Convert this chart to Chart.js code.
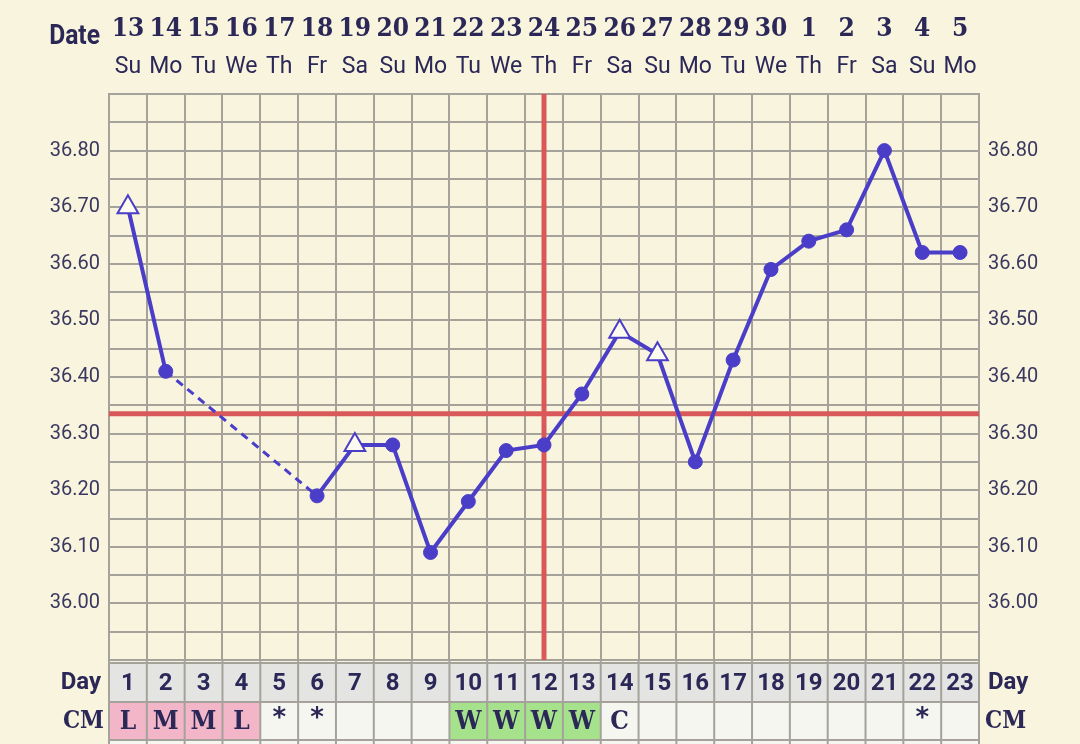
<!DOCTYPE html>
<html>
<head>
<meta charset="utf-8">
<script src="https://cdn.jsdelivr.net/npm/chart.js@4/dist/chart.umd.min.js"></script>
<style>
  html, body { margin: 0; padding: 0; background: #f8f4dd; }
  canvas { display: block; }
</style>
</head>
<body>
<canvas id="bbt-chart-canvas" width="1080" height="744"></canvas>
<script>
const cycleDays = ["1", "2", "3", "4", "5", "6", "7", "8", "9", "10", "11", "12", "13", "14", "15", "16", "17", "18", "19", "20", "21", "22", "23"];
const dates = ["13", "14", "15", "16", "17", "18", "19", "20", "21", "22", "23", "24", "25", "26", "27", "28", "29", "30", "1", "2", "3", "4", "5"];
const weekdays = ["Su", "Mo", "Tu", "We", "Th", "Fr", "Sa", "Su", "Mo", "Tu", "We", "Th", "Fr", "Sa", "Su", "Mo", "Tu", "We", "Th", "Fr", "Sa", "Su", "Mo"];
const temperatures = [36.70, 36.41, null, null, null, 36.19, 36.28, 36.28, 36.09, 36.18, 36.27, 36.28, 36.37, 36.48, 36.44, 36.25, 36.43, 36.59, 36.64, 36.66, 36.80, 36.62, 36.62];
// open triangle = discarded temperature
const discarded = [true, false, false, false, false, false, true, false, false, false, false, false, false, true, true, false, false, false, false, false, false, false, false];
const cervicalMucus = ["L", "M", "M", "L", "*", "*", "", "", "", "W", "W", "W", "W", "C", "", "", "", "", "", "", "", "*", ""];
const coverline = 36.335;
const ovulationDay = "12";

const BLUE = "#4a3dc8";
const RED = "#d9585a";
const GRID = "#a4a29b";
const TEXT = "#2b2858";
const BG = "#f8f4dd";
const SLAB = "'DejaVu Serif Condensed', 'DejaVu Serif'";

const cmColors = { L: "#f2b6c8", M: "#f2b6c8", W: "#a6e28c" };

// points on both sides of a gap, so the gap can be drawn dashed
const gapBridge = temperatures.map((t, i) => {
  if (t === null) return null;
  const nextMissing = temperatures[i + 1] === null;
  const prevMissing = temperatures[i - 1] === null;
  return nextMissing || prevMissing ? t : null;
});

const bgPlugin = {
  id: "bg",
  beforeDraw(chart) {
    const c = chart.ctx;
    c.save();
    c.fillStyle = BG;
    c.fillRect(0, 0, chart.width, chart.height);
    c.restore();
  },
};

const markerPlugin = {
  id: "markers",
  beforeDatasetsDraw(chart) {
    const { ctx, chartArea, scales } = chart;
    const yc = scales.y.getPixelForValue(coverline);
    const xo = scales.x.getPixelForValue(cycleDays.indexOf(ovulationDay));
    ctx.save();
    ctx.strokeStyle = RED;
    ctx.lineWidth = 5;
    ctx.beginPath();
    ctx.moveTo(chartArea.left, yc);
    ctx.lineTo(chartArea.right, yc);
    ctx.moveTo(xo, chartArea.top);
    ctx.lineTo(xo, chartArea.bottom);
    ctx.stroke();
    ctx.restore();
  },
};

const tablePlugin = {
  id: "cycleTable",
  afterDraw(chart) {
    const { ctx, chartArea, scales } = chart;
    const x = scales.x;
    const colW = x.getPixelForValue(1) - x.getPixelForValue(0);
    const rows = [
      { top: chartArea.bottom + 3, h: 39 },
      { top: chartArea.bottom + 42, h: 38 },
      { top: chartArea.bottom + 80, h: 38 },
    ];
    ctx.save();
    cycleDays.forEach((d, i) => {
      const cx = x.getPixelForValue(i);
      const left = cx - colW / 2;
      ctx.fillStyle = "#e4e4e2";
      ctx.fillRect(left, rows[0].top, colW, rows[0].h);
      ctx.fillStyle = cmColors[cervicalMucus[i]] || "#f6f6f0";
      ctx.fillRect(left, rows[1].top, colW, rows[1].h);
      ctx.fillStyle = "#f6f6f0";
      ctx.fillRect(left, rows[2].top, colW, rows[2].h);

      ctx.fillStyle = TEXT;
      ctx.textAlign = "center";
      ctx.textBaseline = "middle";
      ctx.font = "bold 24px Roboto";
      ctx.fillText(d, cx, rows[0].top + rows[0].h / 2 + 1);
      const cm = cervicalMucus[i];
      if (cm === "*") {
        ctx.font = "bold 26px 'DejaVu Sans'";
        ctx.fillText(cm, cx, rows[1].top + rows[1].h / 2 - 2);
      } else if (cm) {
        ctx.font = "bold 26px " + SLAB;
        ctx.fillText(cm, cx, rows[1].top + rows[1].h / 2 + 1);
      }
    });
    // borders
    ctx.strokeStyle = GRID;
    ctx.lineWidth = 2;
    ctx.beginPath();
    rows.forEach((r) => {
      ctx.moveTo(chartArea.left, r.top);
      ctx.lineTo(chartArea.right, r.top);
    });
    for (let i = 0; i <= cycleDays.length; i++) {
      const lx = x.getPixelForValue(0) - colW / 2 + i * colW;
      ctx.moveTo(lx, chartArea.bottom);
      ctx.lineTo(lx, chart.height);
    }
    ctx.stroke();

    // row titles
    ctx.fillStyle = TEXT;
    ctx.textBaseline = "middle";
    ctx.font = "bold 24px Roboto";
    ctx.textAlign = "right";
    ctx.fillText("Day", chartArea.left - 8, rows[0].top + rows[0].h / 2);
    ctx.textAlign = "left";
    ctx.fillText("Day", chartArea.right + 9, rows[0].top + rows[0].h / 2);
    ctx.font = "bold 24px " + SLAB;
    ctx.textAlign = "right";
    ctx.fillText("CM", chartArea.left - 5, rows[1].top + rows[1].h / 2 + 1);
    ctx.textAlign = "left";
    ctx.fillText("CM", chartArea.right + 6, rows[1].top + rows[1].h / 2 + 1);

    // "Date" heading
    ctx.save();
    ctx.translate(chartArea.left - 9, 37);
    ctx.scale(0.88, 1);
    ctx.textAlign = "right";
    ctx.font = "bold 28px Roboto";
    ctx.fillText("Date", 0, 0);
    ctx.restore();
    ctx.restore();
  },
};

const pointStyles = discarded.map((d) => (d ? "triangle" : "circle"));
const pointRadii = discarded.map((d) => (d ? 12 : 7));
const pointFills = discarded.map((d) => (d ? "#fdfbef" : BLUE));
const pointBorders = discarded.map((d) => (d ? 2 : 1));

const yTickLabel = (v) => {
  const c = Math.round(v * 100);
  return c % 10 === 0 && c > 3590 && c < 3690 ? (c / 100).toFixed(2) : "";
};

const ctx = document.getElementById("bbt-chart-canvas").getContext("2d");
const chart = new Chart(ctx, {
  type: "line",
  data: {
    labels: cycleDays,
    datasets: [
      {
        label: "Temperature",
        data: temperatures,
        borderColor: BLUE,
        borderWidth: 4,
        tension: 0,
        spanGaps: false,
        pointStyle: pointStyles,
        pointRadius: pointRadii,
        pointBackgroundColor: pointFills,
        pointBorderColor: BLUE,
        pointBorderWidth: pointBorders,
        order: 1,
      },
      {
        label: "Missing days",
        data: gapBridge,
        borderColor: BLUE,
        borderWidth: 3,
        borderDash: [8, 6],
        tension: 0,
        spanGaps: true,
        pointRadius: 0,
        order: 2,
      },
    ],
  },
  options: {
    responsive: false,
    animation: false,
    layout: { padding: { left: 0, right: 0, top: 0, bottom: 84 } },
    plugins: {
      legend: { display: false },
      tooltip: { enabled: false },
    },
    scales: {
      x: {
        type: "category",
        position: "top",
        offset: true,
        weight: 0,
        grid: { offset: true, color: GRID, lineWidth: 2, drawTicks: false },
        border: { color: GRID, width: 2 },
        ticks: {
          autoSkip: false,
          maxRotation: 0,
          padding: 13,
          color: TEXT,
          font: { family: "Roboto", size: 23 },
          callback: (v, i) => weekdays[i],
        },
        afterFit: (s) => { s.height = 44; },
      },
      xd: {
        type: "category",
        position: "top",
        offset: true,
        weight: 1,
        grid: { display: false, drawTicks: false },
        border: { display: false },
        ticks: {
          autoSkip: false,
          maxRotation: 0,
          padding: 5,
          color: TEXT,
          font: { family: SLAB, size: 26, weight: "bold" },
          callback: (v, i) => dates[i],
        },
        afterFit: (s) => { s.height = 50; },
      },
      y: {
        position: "left",
        min: 35.9,
        max: 36.9,
        grid: { color: GRID, lineWidth: 2, drawTicks: false },
        border: { color: GRID, width: 2 },
        ticks: {
          stepSize: 0.05,
          padding: 9,
          color: "#3a3860",
          font: { family: "Roboto", size: 20 },
          callback: yTickLabel,
        },
        afterFit: (s) => { s.width = 109; },
      },
      y2: {
        position: "right",
        min: 35.9,
        max: 36.9,
        grid: { display: false, drawTicks: false },
        border: { color: GRID, width: 2 },
        ticks: {
          stepSize: 0.05,
          padding: 9,
          color: "#3a3860",
          font: { family: "Roboto", size: 20 },
          callback: yTickLabel,
        },
        afterFit: (s) => { s.width = 101; },
      },
    },
  },
  plugins: [bgPlugin, markerPlugin, tablePlugin],
});
</script>
</body>
</html>
